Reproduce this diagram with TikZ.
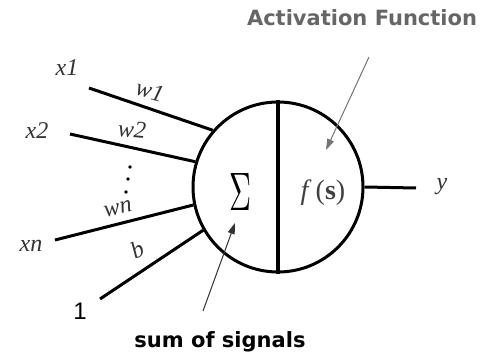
\documentclass[tikz,border=0pt]{standalone}
\usepackage{fontspec}
\usepackage{graphicx}
\setmainfont{Liberation Serif}
\newfontfamily\notesans{DejaVu Sans}
\newfontfamily\onesans{Liberation Sans}
\usetikzlibrary{arrows.meta}
\begin{document}
\begin{tikzpicture}[x=1pt,y=-1pt,
  wire/.style={line width=3pt},
  lab/.style={font=\fontsize{24}{24}\selectfont\itshape, text=black!80, inner sep=0pt},
  note/.style={font=\notesans\bfseries\fontsize{21}{21}\selectfont, inner sep=0pt},
  pointer/.style={line width=1pt, -{Triangle[length=11pt,width=7pt]}}]
\useasboundingbox (0,0) rectangle (489,355);
% neuron body
\node[circle, draw, line width=3pt, minimum size=170pt, inner sep=0pt] (n) at (278,187) {};
\draw[line width=3.5pt] (n.north) -- (n.south);
\node[inner sep=0pt] (sig) at (240,192) {\resizebox{22pt}{37pt}{$\Sigma$}};
\node[inner sep=0pt, text=black!75, font=\fontsize{28}{28}\selectfont] (fs) at (323,193) {\textit{f}\hspace{4pt}(\textbf{s})};
% inputs
\coordinate (a1) at (89,88);
\coordinate (a2) at (70,134);
\coordinate (an) at (55,240);
\coordinate (ab) at (100,299);
\coordinate (yend) at (416,188);
\draw[wire] (a1) -- (n.139.8);
\draw[wire] (a2) -- (n.163.9);
\draw[wire] (an) -- (n.192.2);
\draw[wire] (ab) -- (n.210.7);
\draw[wire] (n.east) -- (yend);
% labels
\node[lab] (lx1) at (67,68) {x1};
\node[lab] (lx2) at (37,131) {x2};
\node[lab] (lxn) at (31,246) {xn};
\node[lab] (ly) at (442,187) {y};
\node[lab, rotate=-15] (lw1) at (150,91) {w1};
\node[lab, rotate=-5] (lw2) at (132,130) {w2};
\node[lab, rotate=12] (lwn) at (118,209) {wn};
\node[lab, rotate=25] (lb) at (137,250) {b};
\node[inner sep=0pt, font=\onesans\fontsize{24}{24}\selectfont] (lone) at (80,311) {1};
% dots
\fill (130,167) circle[radius=1.8pt];
\fill (128,179) circle[radius=1.8pt];
\fill (126,192) circle[radius=1.8pt];
% notes and pointers
\node[note, text=black!60] (act) at (362,18) {Activation Function};
\node[note] (sum) at (220,342) {sum of signals};
\coordinate (actstart) at (369,57);
\coordinate (acttip) at (326,150);
\coordinate (sumstart) at (203,311);
\coordinate (sumtip) at (235,223);
\draw[pointer, draw=black!55] (actstart) -- (acttip);
\draw[pointer, draw=black!80] (sumstart) -- (sumtip);
\end{tikzpicture}
\end{document}
